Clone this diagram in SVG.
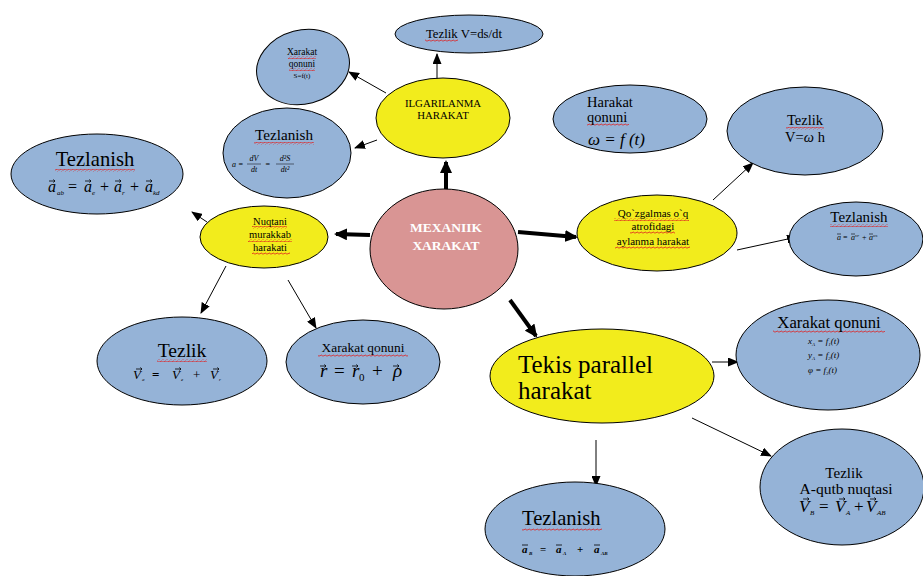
<svg xmlns="http://www.w3.org/2000/svg" width="923" height="576" viewBox="0 0 923 576" font-family="'Liberation Serif','Times New Roman',serif">
<defs>
<style>
.b{fill:#95b3d7;stroke:#000;stroke-width:1}
.y{fill:#f2ec1c;stroke:#000;stroke-width:1}
.p{fill:#d99594;stroke:#000;stroke-width:1}
.t{font-family:"Liberation Serif","Times New Roman",serif;fill:#000}
.c{text-anchor:middle}
.i{font-style:italic}
.w{fill:url(#wavy)}
.thin{stroke:#000;stroke-width:1;fill:none;marker-end:url(#ah)}
.thick{stroke:#000;stroke-width:4;fill:none;marker-end:url(#ahb)}
</style>
<pattern id="wavy" width="4" height="3" patternUnits="userSpaceOnUse">
<path d="M0 2 Q1 0 2 1.5 T4 1.5" stroke="#e02020" stroke-width="0.8" fill="none"/>
</pattern>
<path id="v" d="M0 0 H6 M4.3 -1.5 L6 0 L4.3 1.5" stroke="#000" stroke-width="0.8" fill="none"/>
<marker id="ah" markerUnits="userSpaceOnUse" markerWidth="11" markerHeight="9" refX="10" refY="4.5" orient="auto">
<path d="M0 0 L11 4.5 L0 9 z" fill="#000"/>
</marker>
<marker id="ahb" markerUnits="userSpaceOnUse" markerWidth="13" markerHeight="12" refX="11" refY="6" orient="auto">
<path d="M0 0 L13 6 L0 12 z" fill="#000"/>
</marker>
</defs>
<rect width="923" height="576" fill="#fff"/>

<g id="connectors">
<line class="thick" x1="446" y1="190" x2="446" y2="162"/>
<line class="thick" x1="370" y1="235" x2="336" y2="234"/>
<line class="thick" x1="518" y1="232" x2="576" y2="237"/>
<line class="thick" x1="510" y1="300" x2="536" y2="336"/>
<line class="thin" x1="437" y1="79" x2="437" y2="54"/>
<line class="thin" x1="386" y1="93" x2="349" y2="72"/>
<line class="thin" x1="377" y1="140" x2="355" y2="148"/>
<line class="thin" x1="207" y1="222" x2="192" y2="212"/>
<line class="thin" x1="226" y1="266" x2="201" y2="313"/>
<line class="thin" x1="288" y1="280" x2="316" y2="328"/>
<line class="thin" x1="713" y1="200" x2="753" y2="163"/>
<line class="thin" x1="737" y1="250" x2="797" y2="237"/>
<line class="thin" x1="712" y1="362" x2="738" y2="362"/>
<line class="thin" x1="692" y1="418" x2="771" y2="456"/>
<line class="thin" x1="596" y1="440" x2="596" y2="486"/>
</g>

<g id="n-mexanik">
<ellipse class="p" cx="444" cy="249" rx="74" ry="60"/>
<text class="t c" x="446" y="232" font-size="13.5" font-weight="bold" style="fill:#fff">MEXANIIK</text>
<text class="t c" x="446" y="250" font-size="13.5" font-weight="bold" style="fill:#fff">XARAKAT</text>
</g>

<g id="n-ilgarilanma">
<ellipse class="y" cx="443" cy="118" rx="67" ry="40"/>
<text class="t c" x="443" y="107" font-size="10.8">ILGARILANMA</text>
<text class="t c" x="443" y="119" font-size="10.8">HARAKAT</text>
</g>

<g id="n-tezlik-ds">
<ellipse class="b" cx="469" cy="34" rx="74" ry="19"/>
<rect class="w" x="425" y="39" width="33" height="3"/>
<text class="t c" x="464" y="38" font-size="12.8">Tezlik V=ds/dt</text>
</g>

<g id="n-xarakat-s">
<ellipse class="b" cx="303" cy="67" rx="47" ry="37" transform="rotate(-15 303 67)"/>
<rect class="w" x="288" y="56" width="28" height="3"/>
<rect class="w" x="289" y="68" width="26" height="3"/>
<text class="t c" x="302" y="55" font-size="9.5">Xarakat</text>
<text class="t c" x="302" y="67" font-size="9.5">qonuni</text>
<text class="t c" x="302" y="78" font-size="7">S=f(t)</text>
</g>

<g id="n-tezlanish-ilg">
<ellipse class="b" cx="287" cy="153" rx="64" ry="45"/>
<rect class="w" x="254" y="142" width="60" height="3"/>
<text class="t c" x="284" y="140" font-size="15.2">Tezlanish</text>
<text class="t i" x="232" y="167" font-size="8">a =</text>
<text class="t i c" x="254" y="161" font-size="8">dV</text>
<line x1="247" y1="164" x2="261" y2="164" stroke="#000" stroke-width="0.5"/>
<text class="t i c" x="254" y="172" font-size="8">dt</text>
<text class="t i" x="265" y="167" font-size="8">=</text>
<text class="t i c" x="285" y="161" font-size="8">d²S</text>
<line x1="276" y1="164" x2="294" y2="164" stroke="#000" stroke-width="0.5"/>
<text class="t i c" x="285" y="172" font-size="8">dt²</text>
</g>

<g id="n-tezlanish-big">
<ellipse class="b" cx="97" cy="174" rx="86" ry="40"/>
<rect class="w" x="55" y="169" width="80" height="3"/>
<text class="t c" x="95" y="166" font-size="20.6">Tezlanish</text>
<g class="t i" font-size="16">
<text x="48" y="192">a</text><text x="57" y="195" font-size="7">ab</text>
<text x="68" y="192" font-style="normal">=</text>
<text x="84" y="192">a</text><text x="92" y="195" font-size="7">e</text>
<text x="100" y="192" font-style="normal">+</text>
<text x="114" y="192">a</text><text x="122" y="195" font-size="7">r</text>
<text x="130" y="192" font-style="normal">+</text>
<text x="145" y="192">a</text><text x="153" y="195" font-size="7">kd</text>
</g>
<use href="#v" x="49" y="181"/><use href="#v" x="85" y="181"/><use href="#v" x="115" y="181"/><use href="#v" x="146" y="181"/>
</g>

<g id="n-nuqtani">
<ellipse class="y" cx="264" cy="237" rx="64" ry="31"/>
<rect class="w" x="252" y="226" width="35" height="3"/>
<rect class="w" x="248" y="239" width="44" height="3"/>
<rect class="w" x="252" y="252" width="38" height="3"/>
<text class="t c" x="270" y="225" font-size="10.5">Nuqtani</text>
<text class="t c" x="270" y="238" font-size="10.5">murakkab</text>
<text class="t c" x="270" y="251" font-size="10.5">harakati</text>
</g>

<g id="n-tezlik-left">
<ellipse class="b" cx="182" cy="361" rx="85" ry="44"/>
<rect class="w" x="157" y="359" width="50" height="3"/>
<text class="t c" x="182" y="357" font-size="19.6">Tezlik</text>
<g class="t i" font-size="13">
<text x="133" y="379">V</text><text x="142" y="381" font-size="5">a</text>
<text x="152" y="379" font-style="normal" font-weight="bold">=</text>
<text x="172" y="379">V</text><text x="181" y="381" font-size="5">e</text>
<text x="193" y="379" font-style="normal">+</text>
<text x="210" y="379">V</text><text x="219" y="381" font-size="5">r</text>
</g>
<use href="#v" x="136" y="369"/><use href="#v" x="175" y="369"/><use href="#v" x="213" y="369"/>
</g>

<g id="n-xarakat-mid">
<ellipse class="b" cx="363" cy="362" rx="77" ry="42"/>
<rect class="w" x="318" y="354" width="90" height="3"/>
<text class="t c" x="363" y="352" font-size="13.4">Xarakat qonuni</text>
<g class="t i" font-size="19">
<text x="320" y="377">r</text>
<text x="334" y="377" font-style="normal">=</text>
<text x="352" y="377">r</text><text x="359" y="381" font-size="11" font-style="normal">0</text>
<text x="372" y="377" font-style="normal">+</text>
<text x="393" y="377">ρ</text>
</g>
<use href="#v" x="320" y="366"/><use href="#v" x="352" y="366"/><use href="#v" x="393" y="366"/>
</g>

<g id="n-harakat-omega">
<ellipse class="b" cx="630" cy="119" rx="77" ry="34"/>
<rect class="w" x="587" y="123" width="42" height="3"/>
<text class="t" x="587" y="107" font-size="14.5">Harakat</text>
<text class="t" x="587" y="122" font-size="14.5">qonuni</text>
<text class="t i" x="588" y="145" font-size="17">ω =  f (t)</text>
</g>

<g id="n-tezlik-omega">
<ellipse class="b" cx="805" cy="131" rx="78" ry="44"/>
<rect class="w" x="786" y="127" width="38" height="3"/>
<text class="t c" x="805" y="125" font-size="14.5">Tezlik</text>
<text class="t c" x="805" y="142" font-size="14.5">V=<tspan font-style="italic">ω</tspan> h</text>
</g>

<g id="n-tezlanish-right">
<ellipse class="b" cx="856" cy="239" rx="67" ry="37"/>
<rect class="w" x="830" y="224" width="58" height="3"/>
<text class="t c" x="859" y="222" font-size="15">Tezlanish</text>
<g class="t i" font-size="8">
<text x="837" y="240">a</text>
<text x="843" y="240" font-style="normal">=</text>
<text x="851" y="240">a</text><text x="855" y="237" font-size="5">vr</text>
<text x="862" y="240" font-style="normal">+</text>
<text x="869" y="240">a</text><text x="873" y="237" font-size="5">os</text>
</g>
<path d="M837 234 H841 M851 234 H855 M869 234 H873" stroke="#000" stroke-width="0.6"/>
</g>

<g id="n-qozgalmas">
<ellipse class="y" cx="657" cy="233" rx="80" ry="38"/>
<rect class="w" x="614" y="218" width="75" height="3"/>
<rect class="w" x="630" y="231" width="45" height="3"/>
<rect class="w" x="615" y="246" width="75" height="3"/>
<text class="t c" x="653" y="217" font-size="11">Qo`zgalmas o`q</text>
<text class="t c" x="653" y="230" font-size="11">atrofidagi</text>
<text class="t c" x="653" y="245" font-size="11">aylanma harakat</text>
</g>

<g id="n-tekis">
<ellipse class="y" cx="602" cy="376" rx="112" ry="47"/>
<text class="t" x="518" y="373" font-size="25">Tekis parallel</text>
<text class="t" x="518" y="399" font-size="25">harakat</text>
</g>

<g id="n-xarakat-right">
<ellipse class="b" cx="828" cy="355" rx="92" ry="55"/>
<rect class="w" x="773" y="330" width="112" height="3"/>
<text class="t c" x="829" y="328" font-size="16.7">Xarakat qonuni</text>
<text class="t i" x="808" y="344" font-size="9">x<tspan font-size="5" dy="2">A</tspan><tspan dy="-2"> = f</tspan><tspan font-size="5" dy="2">1</tspan><tspan dy="-2">(t)</tspan></text>
<text class="t i" x="808" y="358" font-size="9">y<tspan font-size="5" dy="2">A</tspan><tspan dy="-2"> = f</tspan><tspan font-size="5" dy="2">2</tspan><tspan dy="-2">(t)</tspan></text>
<text class="t i" x="808" y="373" font-size="9">φ = f<tspan font-size="5" dy="2">3</tspan><tspan dy="-2">(t)</tspan></text>
</g>

<g id="n-tezlik-aqutb">
<ellipse class="b" cx="842" cy="487" rx="82" ry="58"/>
<text class="t c" x="844" y="478" font-size="15">Tezlik</text>
<text class="t c" x="846" y="494" font-size="15.6">A-qutb nuqtasi</text>
<g class="t i" font-size="17">
<text x="799" y="512">V</text><text x="810" y="515" font-size="7">B</text>
<text x="819" y="512" font-style="normal">=</text>
<text x="835" y="512">V</text><text x="846" y="515" font-size="7">A</text>
<text x="854" y="512" font-style="normal">+</text>
<text x="866" y="512">V</text><text x="877" y="515" font-size="7">AB</text>
</g>
<use href="#v" x="803" y="499"/><use href="#v" x="839" y="499"/><use href="#v" x="870" y="499"/>
</g>

<g id="n-tezlanish-bottom">
<ellipse class="b" cx="575" cy="529" rx="90" ry="47"/>
<rect class="w" x="522" y="528" width="80" height="3"/>
<text class="t" x="522" y="525" font-size="20.6">Tezlanish</text>
<g class="t i" font-size="11" font-weight="bold">
<text x="522" y="553">a</text><text x="529" y="555" font-size="5">B</text>
<text x="540" y="553" font-style="normal">=</text>
<text x="556" y="553">a</text><text x="563" y="555" font-size="5">A</text>
<text x="577" y="553" font-style="normal">+</text>
<text x="594" y="553">a</text><text x="601" y="555" font-size="5">AB</text>
</g>
<path d="M522 545 H528 M556 545 H562 M594 545 H600" stroke="#000" stroke-width="0.8"/>
</g>
</svg>
